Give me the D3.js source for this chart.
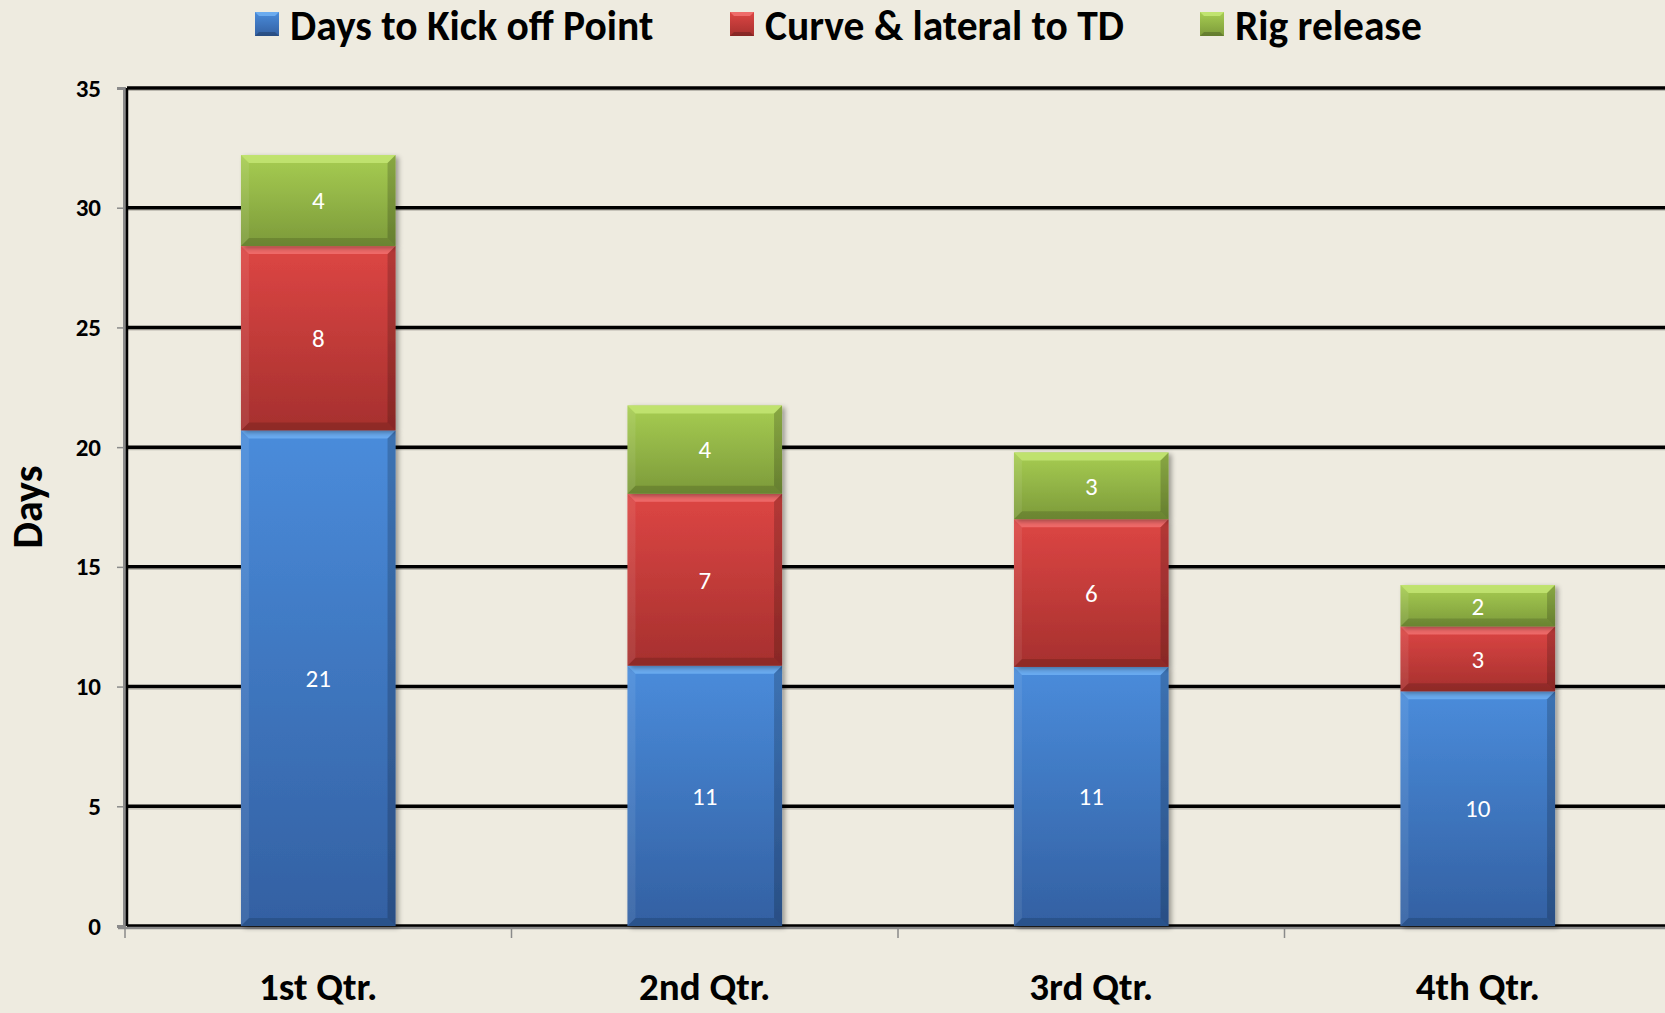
<!DOCTYPE html>
<html><head><meta charset="utf-8">
<script src="https://cdn.jsdelivr.net/npm/d3@7"></script>
<style>
html,body{margin:0;padding:0;background:#eeebe0;}
svg{display:block;}
</style></head>
<body>
<svg id="chart" width="1665" height="1013"></svg>
<script>
const categories = ["1st Qtr.", "2nd Qtr.", "3rd Qtr.", "4th Qtr."];
const seriesNames = ["Days to Kick off Point", "Curve & lateral to TD", "Rig release"];
const kickoff = [20.7, 10.87, 10.82, 9.8];
const curve = [7.7, 7.18, 6.17, 2.71];
const rig = [3.8, 3.69, 2.79, 1.73];
const yTicks = [0, 5, 10, 15, 20, 25, 30, 35];
const yTitle = "Days";

const colors = [
  {top:"#4a8cdb", bot:"#3360a2", hi:"#74b4f5"},
  {top:"#dd4644", bot:"#a6302e", hi:"#f47674"},
  {top:"#a7cd52", bot:"#7c9a3a", hi:"#c8ea78"}
];

const W = 1665, H = 1013;
const svg = d3.select("#chart");
const font = "Carlito, Calibri, 'Liberation Sans Narrow', Lato, 'Open Sans', sans-serif";

const x = d3.scaleBand().domain(categories).range([125, 1671]).paddingInner(0.6).paddingOuter(0.3);
const y = d3.scaleLinear().domain([0, 35]).range([926, 88]);

const defs = svg.append("defs");
colors.forEach((c, i) => {
  const g = defs.append("linearGradient").attr("id", "grad" + i).attr("x1", 0).attr("y1", 0).attr("x2", 0).attr("y2", 1);
  g.append("stop").attr("offset", "0%").attr("stop-color", c.top);
  g.append("stop").attr("offset", "100%").attr("stop-color", c.bot);
});
const shadow = defs.append("filter").attr("id", "shadow").attr("x", "-10%").attr("y", "-10%").attr("width", "130%").attr("height", "130%");
shadow.append("feGaussianBlur").attr("in", "SourceAlpha").attr("stdDeviation", 2.5);
shadow.append("feOffset").attr("dx", 3).attr("dy", 2).attr("result", "ob");
shadow.append("feComponentTransfer").append("feFuncA").attr("type", "linear").attr("slope", 0.35);
const fm = shadow.append("feMerge");
fm.append("feMergeNode");
fm.append("feMergeNode").attr("in", "SourceGraphic");

// gridlines
const grid = svg.append("g");
grid.selectAll("line.g2").data(yTicks).join("line")
  .attr("x1", 127).attr("x2", W).attr("y1", d => y(d) + 2.5).attr("y2", d => y(d) + 2.5)
  .attr("stroke", "#b9b6ad").attr("stroke-width", 1.2);
grid.selectAll("line.g").data(yTicks).join("line")
  .attr("x1", 127).attr("x2", W).attr("y1", d => y(d)).attr("y2", d => y(d))
  .attr("stroke", "#000").attr("stroke-width", 3.5);

// y axis
const yAxis = svg.append("g").attr("transform", "translate(124,0)")
  .call(d3.axisLeft(y).tickValues(yTicks).tickSize(7).tickPadding(16));
yAxis.select(".domain").attr("stroke", "#8a8a8a").attr("stroke-width", 3);
yAxis.selectAll(".tick line").attr("stroke", "#8a8a8a").attr("stroke-width", 1.5);
yAxis.selectAll(".tick text").attr("font-family", font).attr("font-weight", "bold")
  .attr("font-size", 25).attr("fill", "#000");
svg.append("line").attr("x1", 127).attr("x2", 127).attr("y1", y(35)).attr("y2", y(0))
  .attr("stroke", "#000").attr("stroke-width", 2.5);

// x axis
const xAxisG = svg.append("g");
xAxisG.append("line").attr("x1", 118).attr("x2", W).attr("y1", 928).attr("y2", 928)
  .attr("stroke", "#8a8a8a").attr("stroke-width", 2.5);
xAxisG.selectAll("line.t").data(categories).join("line")
  .attr("x1", d => x(d) - (x.step() - x.bandwidth()) / 2).attr("x2", d => x(d) - (x.step() - x.bandwidth()) / 2)
  .attr("y1", 928).attr("y2", 938).attr("stroke", "#8a8a8a").attr("stroke-width", 1.5);
xAxisG.selectAll("text").data(categories).join("text")
  .attr("x", d => x(d) + x.bandwidth() / 2).attr("y", 1000)
  .attr("text-anchor", "middle").attr("font-family", font).attr("font-weight", "bold")
  .attr("font-size", 39).attr("fill", "#000").text(d => d);

// stacked bars
const table = categories.map((c, i) => ({cat: c, s0: kickoff[i], s1: curve[i], s2: rig[i]}));
const stack = d3.stack().keys(["s0", "s1", "s2"])(table);
const bev = 8;
stack.forEach((layer, si) => {
  const g = svg.append("g");
  layer.forEach(d => {
    const x0 = x(d.data.cat), w = x.bandwidth();
    const yt = y(d[1]), yb = y(d[0]), h = yb - yt;
    const seg = g.append("g").attr("filter", "url(#shadow)");
    seg.append("rect").attr("x", x0).attr("y", yt).attr("width", w).attr("height", h)
      .attr("fill", `url(#grad${si})`);
    const b = Math.min(bev, h / 3);
    seg.append("path").attr("d", `M${x0},${yt}H${x0 + w}L${x0 + w - b},${yt + b}H${x0 + b}Z`)
      .attr("fill", colors[si].hi).attr("opacity", 0.75);
    seg.append("path").attr("d", `M${x0},${yb}H${x0 + w}L${x0 + w - b},${yb - b}H${x0 + b}Z`)
      .attr("fill", "#000").attr("opacity", 0.14);
    seg.append("path").attr("d", `M${x0},${yt}L${x0 + b},${yt + b}V${yb - b}L${x0},${yb}Z`)
      .attr("fill", "#fff").attr("opacity", 0.08);
    seg.append("path").attr("d", `M${x0 + w},${yt}L${x0 + w - b},${yt + b}V${yb - b}L${x0 + w},${yb}Z`)
      .attr("fill", "#000").attr("opacity", 0.18);
    g.append("text").attr("x", x0 + w / 2).attr("y", (yt + yb) / 2)
      .attr("dy", "0.35em").attr("text-anchor", "middle")
      .attr("font-family", font).attr("font-size", 25).attr("fill", "#fff")
      .text(d3.format(".0f")(d[1] - d[0]));
  });
});

// y title
svg.append("text").attr("transform", "translate(42,507) rotate(-90)")
  .attr("text-anchor", "middle").attr("font-family", font).attr("font-weight", "bold")
  .attr("font-size", 42).attr("fill", "#000").text(yTitle);

// legend
const legendX = [255, 730, 1200];
const leg = svg.append("g");
seriesNames.forEach((n, i) => {
  const lg = leg.append("g").attr("transform", `translate(${legendX[i]},12)`);
  const s = 24, b = 4;
  lg.append("rect").attr("width", s).attr("height", s).attr("fill", `url(#grad${i})`);
  lg.append("path").attr("d", `M0,0H${s}L${s - b},${b}H${b}Z`).attr("fill", colors[i].hi).attr("opacity", 0.8);
  lg.append("path").attr("d", `M0,${s}H${s}L${s - b},${s - b}H${b}Z`).attr("fill", "#000").attr("opacity", 0.2);
  lg.append("text").attr("x", 35).attr("y", s / 2 + 1).attr("dy", "0.36em")
    .attr("font-family", font).attr("font-weight", "bold").attr("font-size", 41.5)
    .attr("fill", "#000").text(n);
});
</script>
</body></html>
